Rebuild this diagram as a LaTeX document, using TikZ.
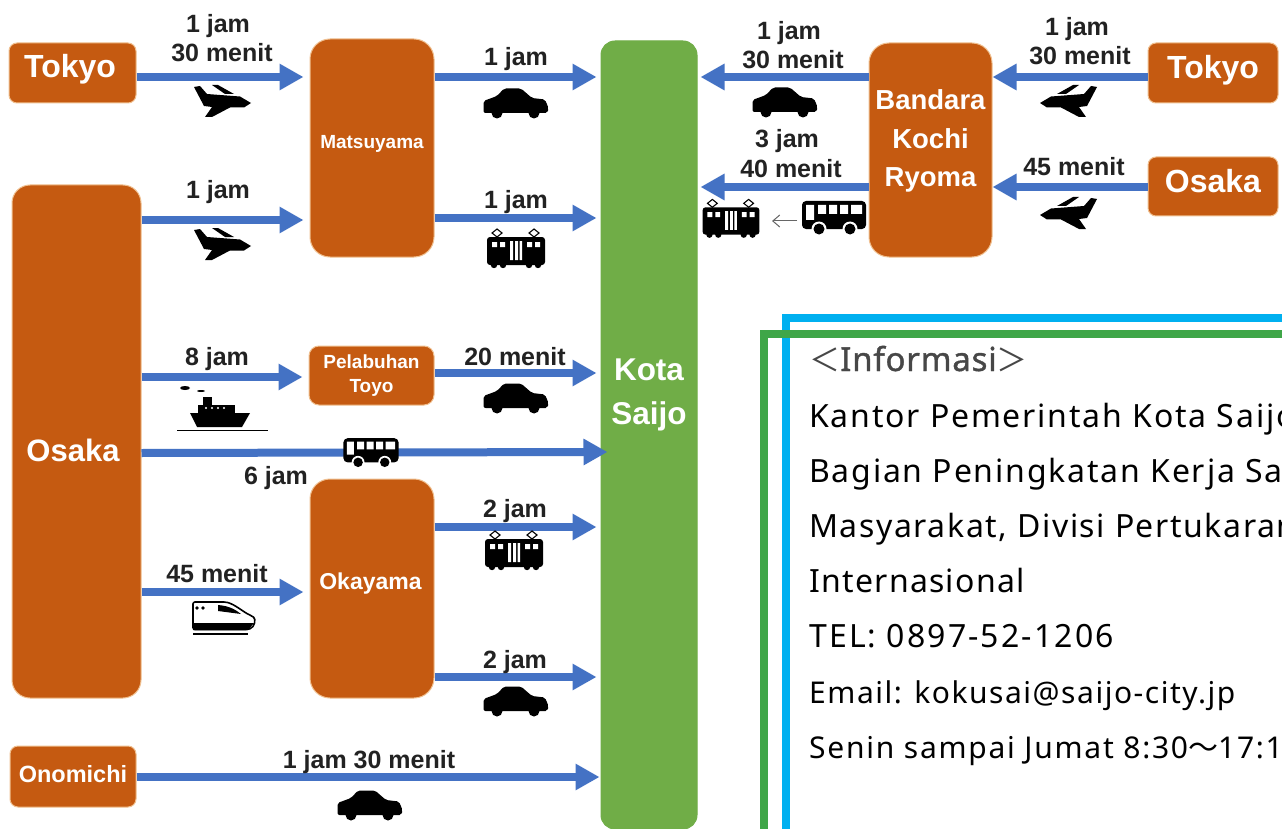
\documentclass[tikz,border=0pt]{standalone}
\usepackage{fontspec}
\setmainfont{Liberation Sans}
\newfontfamily\infofont{Noto Sans}
\newfontfamily\cjkfont{Noto Sans CJK JP}
\usetikzlibrary{arrows.meta}
\definecolor{boxorange}{HTML}{C55A11}
\definecolor{boxedge}{HTML}{F0C090}
\definecolor{cityGreen}{HTML}{70AD47}
\definecolor{arrowBlue}{HTML}{4472C4}
\definecolor{frameBlue}{HTML}{00B0F0}
\definecolor{frameGreen}{HTML}{3FA648}
\definecolor{labelInk}{HTML}{222222}
\newcommand{\fsz}[1]{\fontsize{#1}{#1}\selectfont}
\newcommand{\spaced}[1]{\addfontfeature{LetterSpace=#1}}
\tikzset{
 x=1pt,y=-1pt,
 place/.style={rounded corners=#1,fill=boxorange,draw=boxedge,line width=1pt,text=white,font=\bfseries,align=center,inner sep=0pt},
 route/.style={draw=arrowBlue,line width=8pt,-{Triangle[length=24pt,width=25pt]}},
 timelab/.style={anchor=base,inner sep=0pt,text=labelInk,font=\bfseries\fsz{25}},
 infolab/.style={anchor=base west,inner sep=0pt,text=black},
 plane/.pic={
  \fill[black] (-28,-13) -- (-22,-14) -- (-15,-6) -- (18,-3.5) -- (29,3) -- (22,7.5) -- (8,7.5) -- (-10,17) -- (-17,17) -- (-10,7) -- (-18,6) -- cycle;
  \fill[black] (-10,-15) -- (-4,-15) -- (12,-6) -- (3,-6) -- cycle;
 },
 car/.pic={
  \fill[black,rounded corners=2pt] (-19,-7) -- (-12,-14.5) -- (5,-14.5) -- (16,-5) -- (29,-3.5) -- (32.5,5) -- (31.5,10) -- (-32.5,10) -- (-32.5,-2) -- cycle;
  \fill[black] (-19,10) circle (5.5) (18,10) circle (5.5);
 },
 train/.pic={
  \fill[black,rounded corners=3pt] (-29,-13) rectangle (29,15);
  \fill[black] (-22,15) circle (3.2) (-13,15) circle (3.2) (13,15) circle (3.2) (22,15) circle (3.2);
  \fill[white] (-24,-8) rectangle (-19,-3) (-16,-8) rectangle (-11,-3) (11,-8) rectangle (16,-3) (19,-8) rectangle (24,-3);
  \fill[white] (-6,-9) rectangle (-3,10) (-1,-9) rectangle (2,10) (3.5,-9) rectangle (6,10);
  \draw[black,line width=1.1pt] (-19,-13) -- (-14,-17) -- (-19,-21) -- (-24,-17) -- cycle (18,-13) -- (23,-17) -- (18,-21) -- (13,-17) -- cycle;
 },
 bus/.pic={
  \fill[black,rounded corners=4pt] (-32,-16) rectangle (32,12);
  \fill[white] (-15,12) circle (7.5) (16,12) circle (7.5);
  \fill[black] (-15,12) circle (5.5) (16,12) circle (5.5);
  \fill[white] (-28,-12) rectangle (-20,3) (-16,-12) rectangle (-8,-3) (-5,-12) rectangle (3,-3) (6,-12) rectangle (14,-3) (17,-12) rectangle (28,-3);
 },
 ship/.pic={
  \fill[black] (-25,0) -- (35,0) -- (27,14) -- (-18,14) -- cycle;
  \fill[black] (-17,-8) rectangle (20,0);
  \fill[black] (-12,-16) rectangle (-3,-8);
  \fill[white] (-9,-5) circle (1.2) (-3,-5) circle (1.2) (3,-5) circle (1.2) (9,-5) circle (1.2);
  \draw[black,line width=1pt] (-38,17) -- (53,17);
  \fill[black] (-30,-25) ellipse (5 and 2) (-14,-22) ellipse (4 and 1);
 },
 bullet/.pic={
  \draw[black,line width=1.6pt,rounded corners=2pt] (-30,12.5) -- (-30,-15) -- (3,-15) .. controls (13,-12) and (20,-5) .. (29,-1) .. controls (33,2) and (32,10) .. (25,12.5) -- cycle;
  \fill[black] (-30,6) -- (31,6) -- (25,13) -- (-30,13) -- cycle;
  \fill[black] (-30,16) rectangle (25,18);
  \fill[black] (-5,-12) .. controls (8,-11) and (14,-6) .. (18,-3) -- (-5,-6) -- cycle;
  \fill[black] (-26,-9) circle (1.8) (-20,-9) circle (1.8);
 },
}
\begin{document}
\begin{tikzpicture}
\useasboundingbox (0,0) rectangle (1282,829);
\clip (0,0) rectangle (1282,829);
\fill[white] (0,0) rectangle (1282,829);

% info frames
\draw[frameBlue,line width=8pt] (786,860) -- (786,318) -- (1300,318);
\draw[frameGreen,line width=8pt] (764,860) -- (764,334) -- (1300,334);

% boxes
\node[place=8pt,minimum width=127pt,minimum height=60pt,font=\bfseries\fsz{32},text depth=14pt] (tokyoL) at (72.5,73) {\kern-5pt Tokyo};
\node[place=20pt,minimum width=124pt,minimum height=218pt,font=\bfseries\fsz{19},text depth=12pt] (matsu) at (372,148) {Matsuyama};
\node[place=18pt,minimum width=129pt,minimum height=513pt,font=\bfseries\fsz{31},text height=39pt,text depth=0pt] (osakaL) at (76.5,441.5) {\kern-7pt Osaka};
\node[place=10pt,minimum width=125pt,minimum height=59pt,font=\bfseries\fsz{19}] (toyo) at (371.5,375.5) {Pelabuhan\\[5pt]Toyo};
\node[place=20pt,minimum width=124pt,minimum height=219pt,font=\bfseries\fsz{23},text depth=14pt] (okayama) at (372,588.5) {\kern-3pt Okayama};
\node[place=8pt,minimum width=126pt,minimum height=61pt,font=\bfseries\fsz{23.5},text depth=6pt] (onomichi) at (73,776.5) {Onomichi};
\node[place=14pt,fill=cityGreen,draw=cityGreen,minimum width=96pt,minimum height=788pt,font=\bfseries\fsz{31.5}] (kota) at (649,435) {Kota\\[12pt]Saijo\\[46pt]\strut};
\node[place=20pt,minimum width=123pt,minimum height=214pt,font=\bfseries\fsz{27.5}] (kochi) at (930.5,150) {Bandara\\[11pt]Kochi\\[11pt]Ryoma\\[-12pt]\strut};
\node[place=8pt,minimum width=130pt,minimum height=60pt,font=\bfseries\fsz{32},text depth=13pt] (tokyoR) at (1213,73) {Tokyo};
\node[place=8pt,minimum width=130pt,minimum height=59pt,font=\bfseries\fsz{32},text depth=12pt] (osakaR) at (1213,186.5) {Osaka};

% routes
\draw[route,shorten >=6pt] (tokyoL.east |- 0,77) -- (matsu.west |- 0,77);
\draw[route,shorten >=4pt] (matsu.east |- 0,77) -- (kota.west |- 0,77);
\draw[route,shorten >=6pt] (osakaL.east |- 0,220) -- (matsu.west |- 0,220);
\draw[route,shorten >=4pt] (matsu.east |- 0,218) -- (kota.west |- 0,218);
\draw[route,shorten >=6pt] (osakaL.east |- 0,377) -- (toyo.west |- 0,377);
\draw[route,shorten >=4pt] (toyo.east |- 0,373) -- (kota.west |- 0,373);
\draw[route,shorten >=-7pt] (osakaL.east |- 0,453) -- (kota.west |- 0,452);
\draw[route,shorten >=4pt] (okayama.east |- 0,527) -- (kota.west |- 0,527);
\draw[route,shorten >=6pt] (osakaL.east |- 0,592) -- (okayama.west |- 0,592);
\draw[route,shorten >=4pt] (okayama.east |- 0,677) -- (kota.west |- 0,677);
\draw[route,shorten >=1pt] (onomichi.east |- 0,777) -- (kota.west |- 0,777);
\draw[route,shorten >=3pt] (kochi.west |- 0,77) -- (kota.east |- 0,77);
\draw[route,shorten >=3pt] (kochi.west |- 0,187) -- (kota.east |- 0,187);
\draw[route] (tokyoR.west |- 0,77) -- (kochi.east |- 0,77);
\draw[route] (osakaR.west |- 0,187) -- (kochi.east |- 0,187);

% time labels
\node[timelab] (t1) at (218,33) {1 jam};
\node[timelab] (t2) at (222,62) {30 menit};
\node[timelab] (t3) at (516,66) {1 jam};
\node[timelab] (t4) at (218,199) {1 jam};
\node[timelab] (t5) at (516,209) {1 jam};
\node[timelab] (t6) at (217,365) {8 jam};
\node[timelab] (t7) at (515,365) {20 menit};
\node[timelab] (t8) at (276,484) {6 jam};
\node[timelab] (t9) at (515,517) {2 jam};
\node[timelab] (t10) at (217,582) {45 menit};
\node[timelab] (t11) at (515,668) {2 jam};
\node[timelab] (t12) at (369,768) {1 jam 30 menit};
\node[timelab] (t13) at (789,40) {1 jam};
\node[timelab] (t14) at (793,69) {30 menit};
\node[timelab] (t15) at (787,148) {3 jam};
\node[timelab] (t16) at (791,178) {40 menit};
\node[timelab] (t17) at (1077,36) {1 jam};
\node[timelab] (t18) at (1080,65) {30 menit};
\node[timelab] (t19) at (1074,176) {45 menit};

% icons
\pic at (222,100) {plane};
\pic at (222,243) {plane};
\pic[xscale=-1] at (1069,100) {plane};
\pic[xscale=-1] at (1069,212) {plane};
\pic at (516,103) {car};
\pic at (516,398) {car};
\pic at (516,701) {car};
\pic at (785,102) {car};
\pic at (370,805) {car};
\pic at (516,250) {train};
\pic at (514,552) {train};
\pic[scale=.98] at (731,220) {train};
\pic at (834,217) {bus};
\pic[scale=.86] at (371,452) {bus};
\pic at (215,413) {ship};
\pic at (223,617) {bullet};
\coordinate (smallA) at (797,221);
\coordinate (smallB) at (772,221);
\draw[black!60,line width=1pt,-{Straight Barb[length=7pt,width=12pt]}] (smallA) -- (smallB);

% information
\node[anchor=base west,inner sep=0pt,text=black!72,font=\infofont\fsz{31}] (i0) at (809,371) {{\cjkfont ＜}{\fsz{33}\addfontfeature{FakeBold=1.2,LetterSpace=2.4}Informasi}{\cjkfont ＞}};
\node[infolab,font=\infofont\fsz{32}\spaced{5.7}] (i1) at (809,427) {Kantor Pemerintah Kota Saijo};
\node[infolab,font=\infofont\fsz{32}\spaced{5.7}] (i2) at (809,482) {Bagian Peningkatan Kerja Sama};
\node[infolab,font=\infofont\fsz{32}\spaced{5}] (i3) at (809,537) {Masyarakat, Divisi Pertukaran};
\node[infolab,font=\infofont\fsz{32}\spaced{4}] (i4) at (809,592) {Internasional};
\node[infolab,font=\infofont\fsz{32}\spaced{6.6}] (i5) at (809,647) {TEL: 0897-52-1206};
\node[infolab,font=\infofont\fsz{30}\spaced{5.1}] (i6) at (809,703) {Email: kokusai@saijo-city.jp};
\node[infolab,font=\infofont\fsz{30}\spaced{5.8}] (i7) at (809,758) {Senin sampai Jumat 8:30{\cjkfont ～}17:1};
\end{tikzpicture}
\end{document}
